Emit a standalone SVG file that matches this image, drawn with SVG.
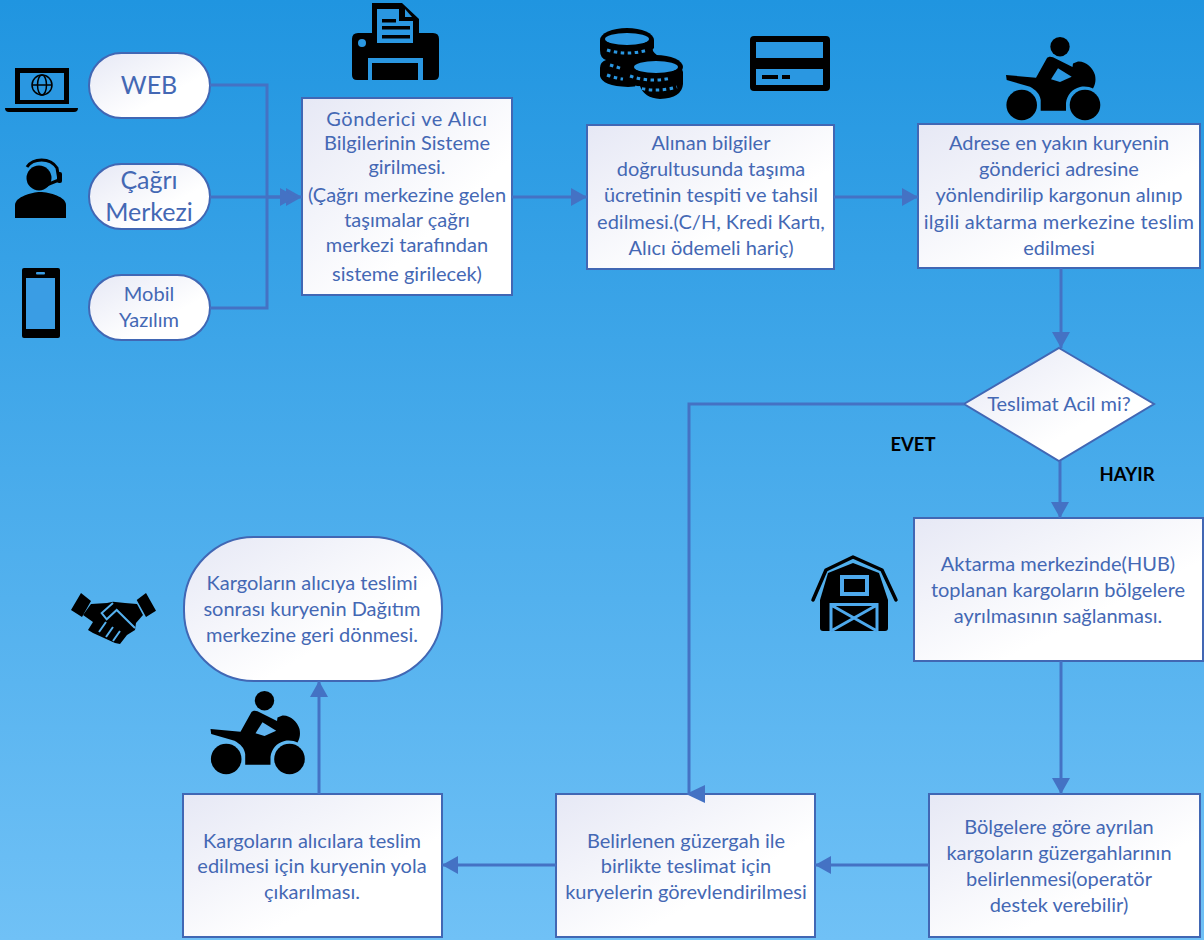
<svg xmlns="http://www.w3.org/2000/svg" xmlns:xlink="http://www.w3.org/1999/xlink" width="1204" height="940" viewBox="0 0 1204 940">
<style>
.n{stroke:#4167b4;stroke-width:2;fill:url(#box)}
.t{font-family:Lato,"Open Sans",sans-serif;font-size:20px;fill:#4468b4;text-anchor:middle}
.b{font-family:Lato,"Open Sans",sans-serif;font-size:18.500px;font-weight:bold;fill:#000;text-anchor:middle}
.c{fill:none;stroke:#4472c4;stroke-width:3}
.k{fill:#000}
.bl{fill:#2a97e1}
</style>
<defs>
<linearGradient id="bg" x1="0" y1="0" x2="0" y2="1"><stop offset="0" stop-color="#2095e0"/><stop offset="1" stop-color="#70c1f6"/></linearGradient>
<linearGradient id="box" x1="0" y1="0" x2="1" y2="1"><stop offset="0" stop-color="#e6e8f5"/><stop offset="0.65" stop-color="#fff"/><stop offset="1" stop-color="#fff"/></linearGradient>
<marker id="a" markerUnits="userSpaceOnUse" markerWidth="18" markerHeight="20" refX="16" refY="9" orient="auto"><path d="M0 0L16 9L0 18z" fill="#4472c4"/></marker>
<g id="moto">
<circle cx="1060" cy="46.700" r="9.700"/>
<path d="M1006 75L1006.700 80L1030 86.700C1036 90 1040 94 1040.700 100V110.700H1066V103C1067 95 1072 89 1080 87C1085 86 1090 87 1093 88.500C1095.500 84 1096 80 1095 75C1093 68 1086 61 1078 61.500L1073 63.500L1072.500 67L1053 57.300C1050 56 1048 57 1047 58L1036 77.700z"/>
<path style="fill:currentColor" d="M1058 68.300L1051 79.300L1060 82L1071.700 76.700z"/>
<circle cx="1021.700" cy="105" r="15.300"/>
<circle cx="1085" cy="105" r="15.300"/>
</g>
</defs>
<rect width="1204" height="940" fill="url(#bg)"/>
<g id="web"><rect class="n" x="89" y="53" width="121" height="65" rx="32.500"/><text class="t" style="font-size:25px" x="149" y="94">WEB</text></g>
<g id="cagri"><rect class="n" x="89" y="164" width="121" height="65" rx="32.500"/><text class="t" style="font-size:25px"><tspan x="149" y="189">Çağrı</tspan><tspan x="149" y="221">Merkezi</tspan></text></g>
<g id="mobil"><rect class="n" x="89" y="275" width="121" height="65" rx="32.500"/><text class="t"><tspan x="149" y="301">Mobil</tspan><tspan x="149" y="327">Yazılım</tspan></text></g>
<g id="gonderici"><rect class="n" x="302" y="98" width="210" height="197"/><text class="t"><tspan x="407" y="126" style="letter-spacing:.5px">Gönderici ve Alıcı</tspan><tspan x="407" y="150">Bilgilerinin Sisteme</tspan><tspan x="407" y="174">girilmesi.</tspan><tspan x="407" y="202">(Çağrı merkezine gelen</tspan><tspan x="407" y="227">taşımalar çağrı</tspan><tspan x="407" y="252">merkezi tarafından</tspan><tspan x="407" y="281">sisteme girilecek)</tspan></text></g>
<g id="ucret"><rect class="n" x="587" y="125" width="247" height="144"/><text class="t"><tspan x="711" y="150">Alınan bilgiler</tspan><tspan x="711" y="176">doğrultusunda taşıma</tspan><tspan x="711" y="202">ücretinin tespiti ve tahsil</tspan><tspan x="711" y="229">edilmesi.(C/H, Kredi Kartı,</tspan><tspan x="711" y="255">Alıcı ödemeli hariç)</tspan></text></g>
<g id="kurye"><rect class="n" x="918" y="124" width="282" height="144"/><text class="t"><tspan x="1059" y="150">Adrese en yakın kuryenin</tspan><tspan x="1059" y="176">gönderici adresine</tspan><tspan x="1059" y="202">yönlendirilip kargonun alınıp</tspan><tspan x="1059" y="229" style="letter-spacing:.25px">ilgili aktarma merkezine teslim</tspan><tspan x="1059" y="255">edilmesi</tspan></text></g>
<g id="karar"><path class="n" d="M1059 348L1154 404L1059 461L964 404z"/><text class="t" x="1059" y="411">Teslimat Acil mi?</text></g>
<g id="hub"><rect class="n" x="914" y="518" width="289" height="143"/><text class="t"><tspan x="1058" y="571">Aktarma merkezinde(HUB)</tspan><tspan x="1058" y="597">toplanan kargoların bölgelere</tspan><tspan x="1058" y="623">ayrılmasının sağlanması.</tspan></text></g>
<g id="guzergah"><rect class="n" x="929" y="794" width="271" height="143"/><text class="t"><tspan x="1059" y="834">Bölgelere göre ayrılan</tspan><tspan x="1059" y="860">kargoların güzergahlarının</tspan><tspan x="1059" y="886">belirlenmesi(operatör</tspan><tspan x="1059" y="912">destek verebilir)</tspan></text></g>
<g id="gorev"><rect class="n" x="556" y="794" width="259" height="143"/><text class="t"><tspan x="686" y="848">Belirlenen güzergah ile</tspan><tspan x="686" y="873">birlikte teslimat için</tspan><tspan x="686" y="899">kuryelerin görevlendirilmesi</tspan></text></g>
<g id="yol"><rect class="n" x="183" y="794" width="259" height="143"/><text class="t"><tspan x="312" y="848">Kargoların alıcılara teslim</tspan><tspan x="312" y="873">edilmesi için kuryenin yola</tspan><tspan x="312" y="899">çıkarılması.</tspan></text></g>
<g id="son"><rect class="n" x="184" y="537" width="258" height="144" rx="70"/><text class="t"><tspan x="312" y="590">Kargoların alıcıya teslimi</tspan><tspan x="312" y="616">sonrası kuryenin Dağıtım</tspan><tspan x="312" y="642">merkezine geri dönmesi.</tspan></text></g>
<g id="connectors">
<path class="c" d="M210 85H267V308H210"/>
<path class="c" d="M210 197H302" marker-end="url(#a)"/>
<path class="c" d="M267 197H296" marker-end="url(#a)"/>
<path class="c" d="M512 197H587" marker-end="url(#a)"/>
<path class="c" d="M834 197H918" marker-end="url(#a)"/>
<path class="c" d="M1061 268V348" marker-end="url(#a)"/>
<path class="c" d="M1060 461V518" marker-end="url(#a)"/>
<path class="c" d="M964 404H689V794"/>
<path d="M686 794L705 785V803z" fill="#4472c4"/>
<path class="c" d="M1061 661V794" marker-end="url(#a)"/>
<path class="c" d="M929 865H815" marker-end="url(#a)"/>
<path class="c" d="M556 865H442" marker-end="url(#a)"/>
<path class="c" d="M319 794V681" marker-end="url(#a)"/>
</g>
<text class="b" x="913" y="451">EVET</text>
<text class="b" x="1127" y="481">HAYIR</text>
<g id="icon-laptop"><path class="k" d="M15 68H69V104H15zM5 108H78Q78 112 74 112H9Q5 112 5 108z"/><rect class="bl" x="20" y="73" width="44" height="27"/><g fill="none" stroke="#000" stroke-width="1.500"><circle cx="42" cy="85" r="10"/><ellipse cx="42" cy="85" rx="4.500" ry="10"/><path d="M32 85H52"/></g></g>
<g id="icon-agent"><circle cx="39" cy="178" r="12.500" class="k"/><path class="k" d="M15 218V205C15 197 32 192 40 192C50 192 66 197 66 205V218z"/><path d="M27 167C33 158 50 157 57 168L59 180L44 186" fill="none" stroke="#000" stroke-width="3"/><rect class="k" x="57" y="172" width="5" height="11" rx="2"/></g>
<g id="icon-phone"><rect class="k" x="22" y="268" width="38" height="70" rx="2"/><rect style="fill:#3a9de4" x="26" y="278" width="29" height="51"/><rect style="fill:#3a9de4" x="36" y="272" width="9" height="2.500" rx="1"/></g>
<g id="icon-printer"><path class="k" d="M372 3H402L419 19V33H433Q439 33 439 39V75Q439 80 434 80H357Q352 80 352 75V39Q352 33 358 33H372z"/><path class="bl" d="M377 9H399V21H413V43H377z"/><path class="bl" d="M405 9L412 17H405zM368 58H423V80H418V63H372V80H368z"/><rect class="k" x="382" y="19" width="14" height="3.500"/><rect class="k" x="382" y="26" width="28" height="3.500"/><rect class="k" x="382" y="35" width="28" height="3.500"/><circle class="bl" cx="362" cy="43" r="4"/></g>
<g id="icon-coins"><ellipse class="k" cx="627" cy="40" rx="27" ry="12"/><path class="k" d="M600 40V50Q600 58 606 60Q600 62 600 68V76Q602 86 628 87L640 86Q644 98 660 99Q682 98 683 84V72Q680 60 658 56Q650 50 654 48V40z"/><ellipse class="bl" cx="627" cy="39" rx="22" ry="6"/><ellipse class="k" cx="656" cy="67" rx="27" ry="12"/><ellipse class="bl" cx="656" cy="67" rx="22" ry="6"/><path fill="none" stroke="#2a97e1" stroke-width="3" stroke-dasharray="3.500 3.500" d="M607 50Q627 56 648 50M610 65L623 69M607 75Q615 78 623 79M630 76Q650 83 671 78M635 87Q656 93 677 87"/></g>
<g id="icon-card"><rect class="k" x="750" y="36" width="80" height="55" rx="4"/><rect class="bl" x="756" y="42" width="67" height="16"/><rect class="bl" x="756" y="69" width="67" height="16"/><rect class="k" x="762" y="75" width="16" height="4"/><rect class="k" x="782" y="75" width="8" height="4"/></g>
<use id="icon-moto1" href="#moto" style="color:#2a97e1"/>
<use id="icon-moto2" href="#moto" x="-795.500" y="654" style="color:#60b4f0"/>
<g id="icon-barn"><path class="k" d="M820 600L828 573L853 563L879 573L888 600V628Q888 631 885 631H823Q820 631 820 628z"/><path fill="none" stroke="#000" stroke-width="3.500" stroke-linecap="round" stroke-linejoin="round" d="M813 600L826 570L853 557L882 570L896 600"/><g fill="none" stroke="#4ea9ec" stroke-width="3"><rect x="842" y="577" width="25" height="17" stroke-width="4"/><path d="M831 631V604.500H877V631M831 605L877 631M877 605L831 631"/></g></g>
<g id="icon-hands"><path class="k" d="M71 610L81 593L91 601L82 617zM156 610.700L146 593L136.700 600L146 617z"/><path class="k" d="M91 604L107 603L113 601.700L125 603L137 604L143 615L136 623L135 630L127 635L120 644L115 643L93 633L88 630L93 622L83 615z"/><path fill="none" stroke="#55b0ee" stroke-width="2" d="M113 603L101.700 613L106.700 619.300L116.700 610L135 628M106 622L99 632M113 627L106 637M120 631L113 641"/></g>
</svg>
